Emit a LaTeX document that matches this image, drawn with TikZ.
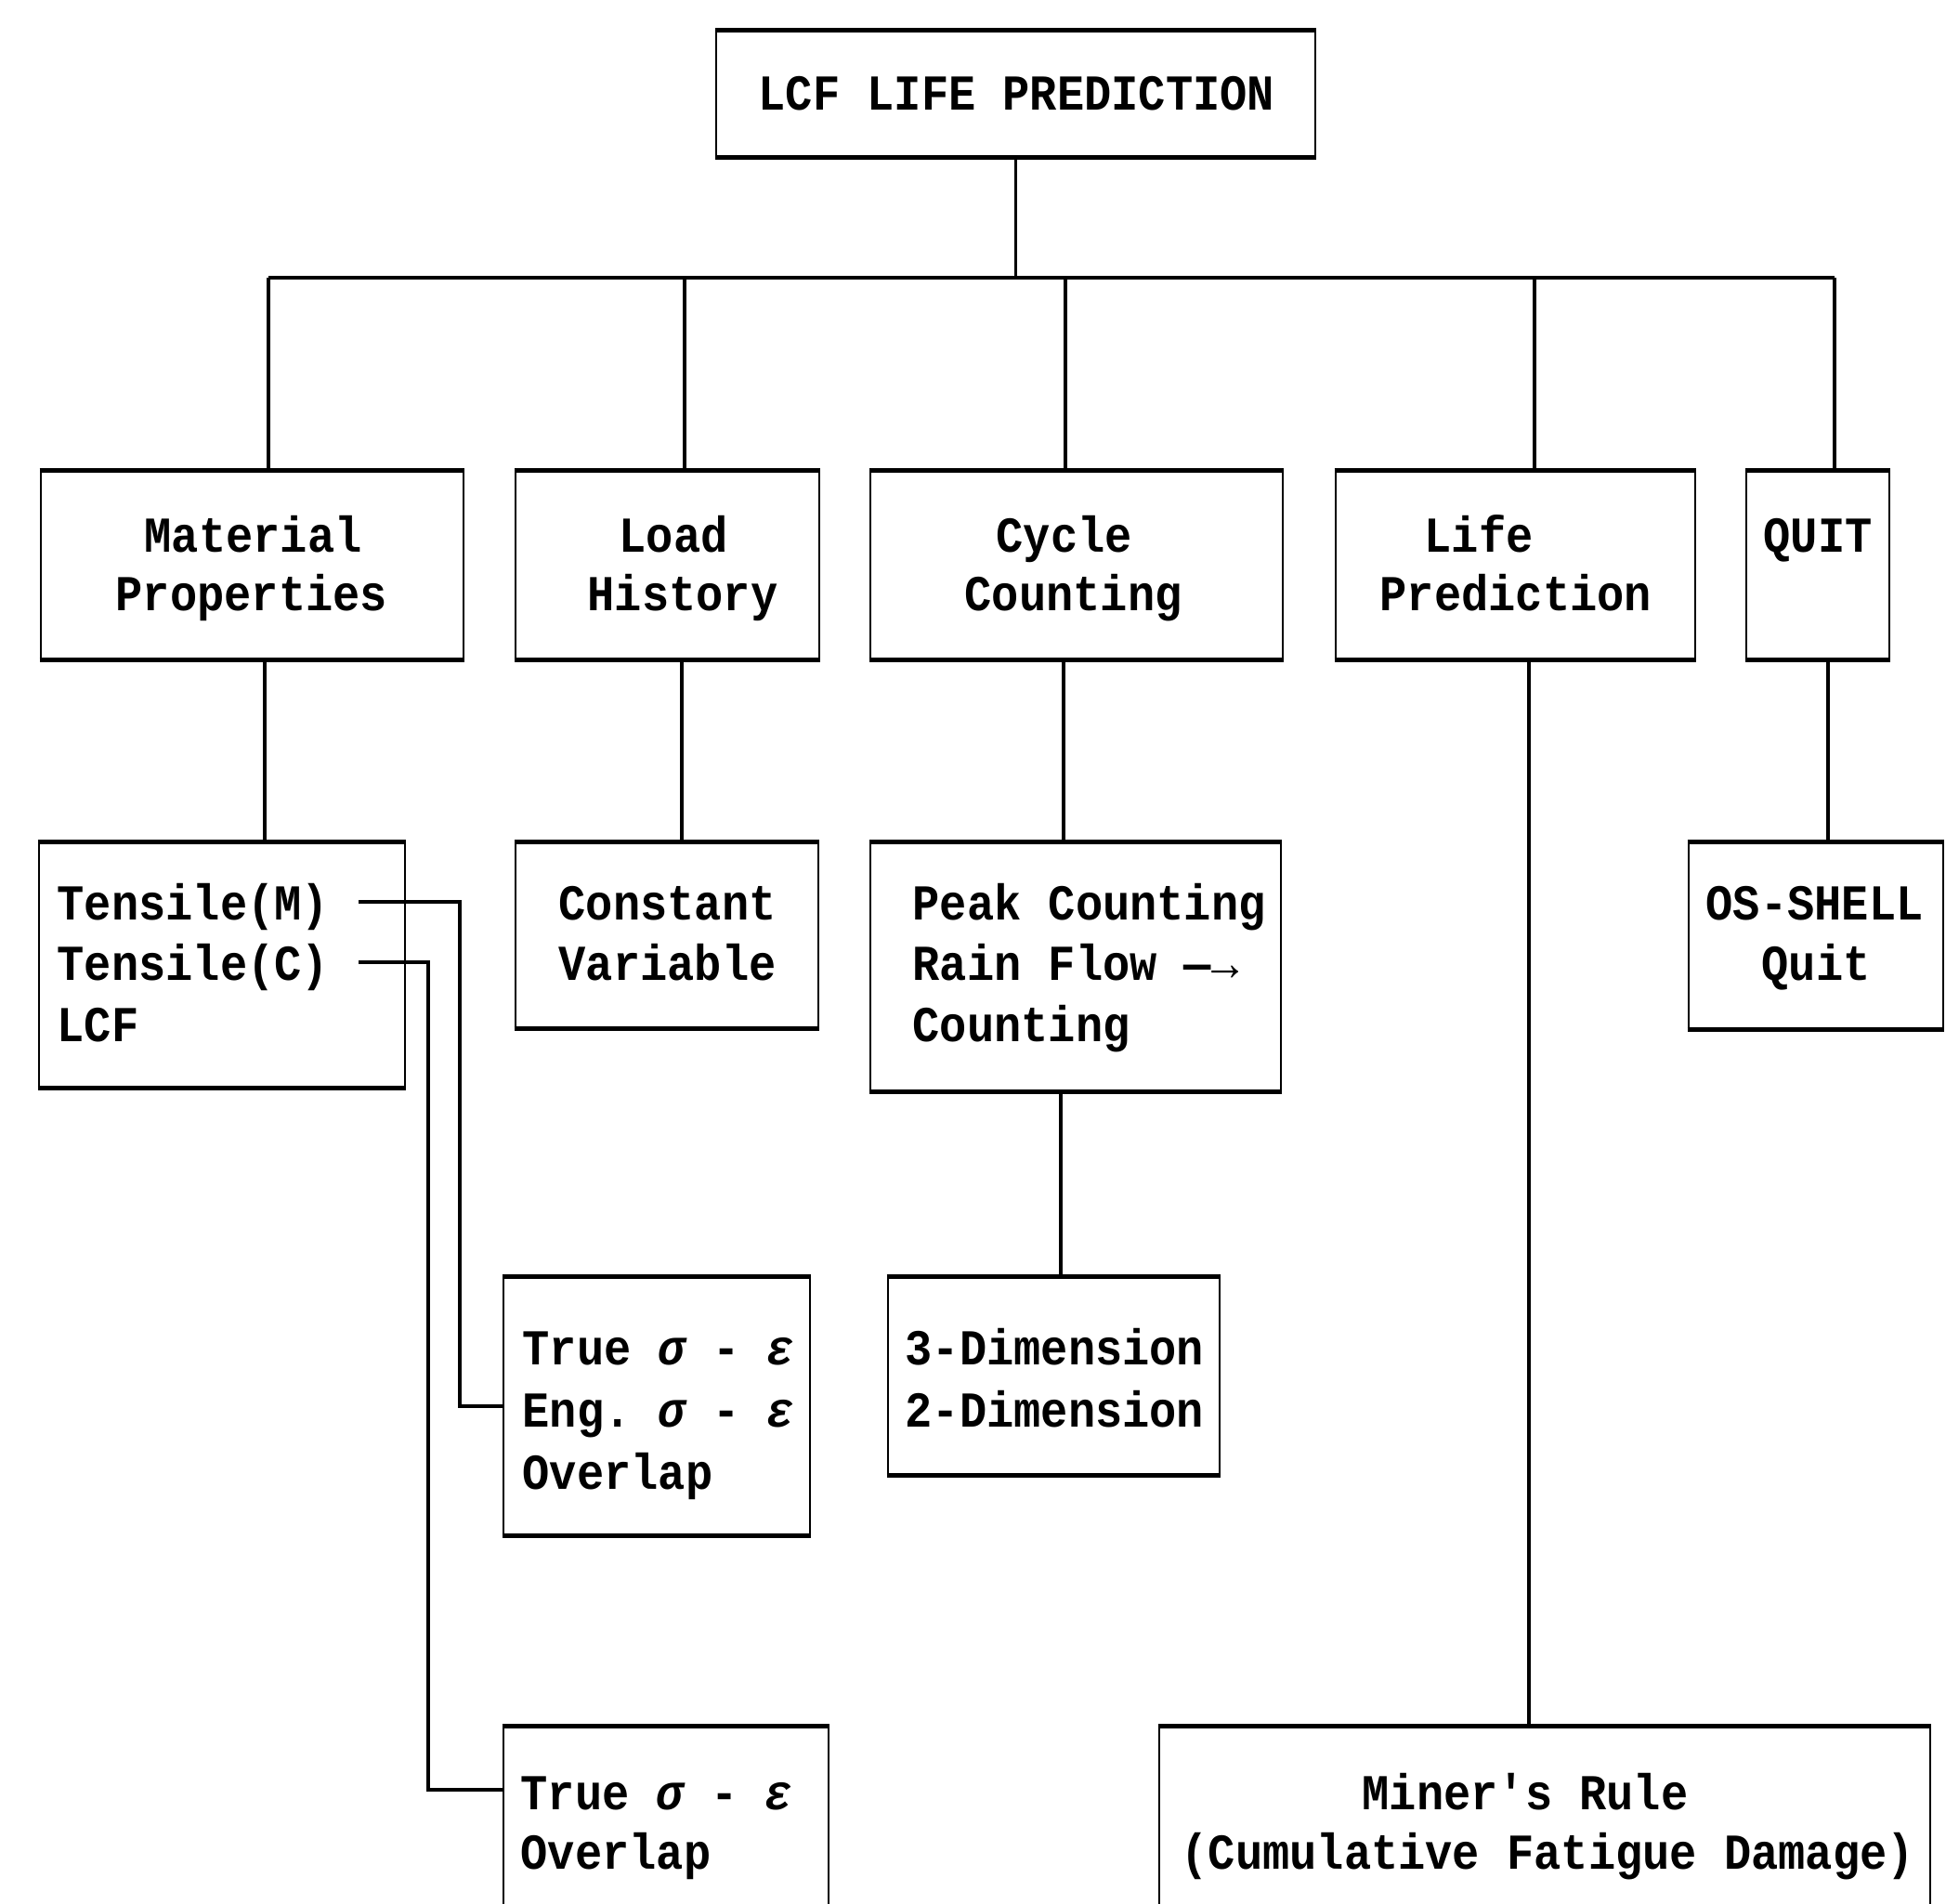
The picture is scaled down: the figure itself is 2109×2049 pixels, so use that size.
\documentclass[tikz,border=0pt]{standalone}
\usepackage{fontspec}
\newfontfamily\monof[FakeStretch=0.9]{Liberation Mono}
\begin{document}
\begin{tikzpicture}[x=0.1mm,y=-0.1mm,
  font=\monof\fontsize{15.4}{18.7}\selectfont\bfseries\frenchspacing,
  box/.style={draw, line width=0.8pt, inner sep=0pt},
  lbl/.style={anchor=base west, inner sep=0pt},
  conn/.style={line width=1pt},
  edge/.style={line width=1.6pt}]
\useasboundingbox (0,0) rectangle (2109,2049);
\clip (0,0) rectangle (2109,2049);
% boxes
\node[box, minimum width=64.5mm, minimum height=13.4mm] (top)   at (1093.5,101) {};
\node[box, minimum width=45.5mm, minimum height=20.1mm] (mat)   at (271.5,608.5) {};
\node[box, minimum width=32.7mm, minimum height=20.1mm] (load)  at (718.5,608.5) {};
\node[box, minimum width=44.4mm, minimum height=20.1mm] (cyc)   at (1159,608.5) {};
\node[box, minimum width=38.7mm, minimum height=20.1mm] (life)  at (1631.5,608.5) {};
\node[box, minimum width=15.4mm, minimum height=20.1mm] (quit)  at (1957,608.5) {};
\node[box, minimum width=39.4mm, minimum height=26.2mm] (tens)  at (239,1039) {};
\node[box, minimum width=32.6mm, minimum height=19.8mm] (const) at (718,1007) {};
\node[box, minimum width=44.2mm, minimum height=26.6mm] (peak)  at (1158,1041) {};
\node[box, minimum width=27.4mm, minimum height=19.9mm] (os)    at (1955,1007.5) {};
\node[box, minimum width=33.0mm, minimum height=27.6mm] (eng)   at (707,1514) {};
\node[box, minimum width=35.7mm, minimum height=21.1mm] (dim)   at (1134.5,1481.5) {};
\node[box, minimum width=35.0mm, minimum height=24.0mm] (tov)   at (717,1980) {};
\node[box, minimum width=83.0mm, minimum height=24.0mm] (miner) at (1663,1980) {};
% heavier top and bottom edges
\foreach \n in {top,mat,load,cyc,life,quit,tens,const,peak,os,eng,dim,tov,miner}
  \draw[edge] (\n.north west) -- (\n.north east) (\n.south west) -- (\n.south east);
% labels
\node[lbl] (lTop) at (816,118) {LCF LIFE PREDICTION};
\node[lbl] (lMat1) at (155,594) {Material};
\node[lbl] (lMat2) at (124,657) {Properties};
\node[lbl] (lLoad1) at (666,594) {Load};
\node[lbl] (lLoad2) at (632,657) {History};
\node[lbl] (lCyc1) at (1072,594) {Cycle};
\node[lbl] (lCyc2) at (1038,657) {Counting};
\node[lbl] (lLife1) at (1533,594) {Life};
\node[lbl] (lLife2) at (1485,657) {Prediction};
\node[lbl] (lQuit) at (1898,594) {QUIT};
\node[lbl] (lTen1) at (61,990) {Tensile(M)};
\node[lbl] (lTen2) at (61,1055) {Tensile(C)};
\node[lbl] (lTen3) at (61,1121) {LCF};
\node[lbl] (lCon1) at (601,990) {Constant};
\node[lbl] (lCon2) at (601,1055) {Variable};
\node[lbl] (lPk1) at (982,990) {Peak Counting};
\node[lbl] (lPk2) at (982,1055) {Rain Flow —→};
\node[lbl] (lPk3) at (982,1121) {Counting};
\node[lbl] (lOs1) at (1836,990) {OS-SHELL};
\node[lbl] (lOs2) at (1896,1055) {Quit};
\node[lbl] (lEng1) at (562,1469) {True {\itshape σ} - {\itshape ε}};
\node[lbl] (lEng2) at (562,1536) {Eng. {\itshape σ} - {\itshape ε}};
\node[lbl] (lEng3) at (562,1603) {Overlap};
\node[lbl] (lDim1) at (974,1469) {3-Dimension};
\node[lbl] (lDim2) at (974,1536) {2-Dimension};
\node[lbl] (lTov1) at (560,1948) {True {\itshape σ} - {\itshape ε}};
\node[lbl] (lTov2) at (560,2012) {Overlap};
\node[lbl] (lMin1) at (1466,1948) {Miner's Rule};
\node[lbl] (lMin2) at (1271,2012) {(Cumulative Fatigue Damage)};
% bus and drops
\coordinate (b1) at (289,299);
\coordinate (b2) at (737,299);
\coordinate (b3) at (1147,299);
\coordinate (b4) at (1652,299);
\coordinate (b5) at (1975,299);
\draw[conn] (top.south) -- (top.south |- b1);
\draw[conn] (b1) -- (b5);
\foreach \c/\n in {b1/mat,b2/load,b3/cyc,b4/life,b5/quit}
  \draw[conn] (\c) -- (\c |- \n.north);
% vertical links
\coordinate (v1) at (285,0);
\coordinate (v2) at (734,0);
\coordinate (v3) at (1145,0);
\coordinate (v4) at (1646,0);
\coordinate (v5) at (1968,0);
\coordinate (v6) at (1142,0);
\draw[conn] (mat.south -| v1) -- (tens.north -| v1);
\draw[conn] (load.south -| v2) -- (const.north -| v2);
\draw[conn] (cyc.south -| v3) -- (peak.north -| v3);
\draw[conn] (life.south -| v4) -- (miner.north -| v4);
\draw[conn] (quit.south -| v5) -- (os.north -| v5);
\draw[conn] (peak.south -| v6) -- (dim.north -| v6);
% tensile links
\coordinate (tM) at (386,971);
\coordinate (tC) at (386,1036);
\path (tov.west) ++(0,-53) coordinate (tovIn);
\draw[conn] (tM) -- ++(109,0) |- (eng.west);
\draw[conn] (tC) -- ++(75,0) |- (tovIn);
\end{tikzpicture}
\end{document}
